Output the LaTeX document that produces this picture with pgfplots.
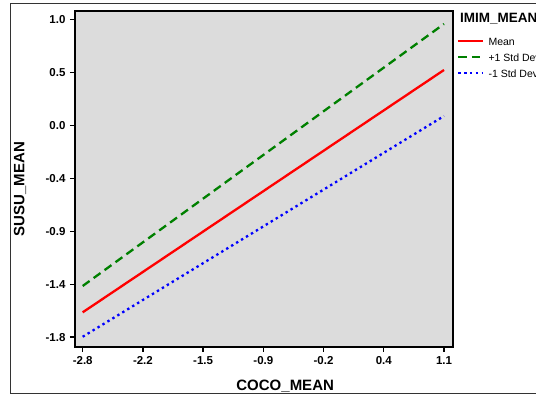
\documentclass[border=0pt]{standalone}
\usepackage{pgfplots}
\pgfplotsset{compat=1.18}
\usepackage{fontspec}
\setmainfont{Liberation Sans}
\definecolor{bggray}{RGB}{220,220,220}
\definecolor{dgreen}{RGB}{0,128,0}
\begin{document}
\begin{tikzpicture}[x=1pt,y=1pt]
\useasboundingbox (0,0) rectangle (536,396);
\fill[white] (0,0) rectangle (536,396);
\clip (0,0) rectangle (536,396);
\draw[line width=1pt, black!80] (10,2.5) rectangle (560,392);
\begin{axis}[
  at={(75pt,49pt)}, anchor=south west,
  scale only axis, width=378pt, height=336pt,
  xmin=-2.883, xmax=1.197, ymin=-1.928, ymax=1.057,
  axis background/.style={fill=bggray},
  axis line style={line width=1.3pt, black},
  every tick/.style={line width=1.3pt, black},
  tick align=outside, major tick length=5pt,
  xtick pos=bottom, ytick pos=left,
  xtick={-2.8,-2.15,-1.5,-0.85,-0.2,0.45,1.1},
  xticklabels={-2.8,-2.2,-1.5,-0.9,-0.2,0.4,1.1},
  ytick={0.98,0.51,0.04,-0.43,-0.90,-1.37,-1.84},
  yticklabels={1.0,0.5,0.0,-0.4,-0.9,-1.4,-1.8},
  tick label style={font=\fontsize{11.5}{13}\selectfont\bfseries},
  xticklabel style={yshift=-1pt},
  yticklabel style={xshift=-1pt},
  xlabel={COCO\_MEAN}, ylabel={SUSU\_MEAN},
  label style={font=\fontsize{15}{17}\selectfont\bfseries},
  xlabel style={at={(axis description cs:0.556,-0.116)}, anchor=center},
  ylabel style={at={(axis description cs:-0.1455,0.47)}, anchor=center},
  legend style={draw=none, fill=none, at={(axis description cs:1.0106,0.923)}, anchor=north west,
    font=\fontsize{10.5}{12}\selectfont, row sep=8pt, column sep=4pt, inner sep=0pt,
    nodes={inner sep=0pt, text height=8pt, text depth=0pt}},
  legend cell align=left,
  legend image code/.code={\draw[#1] (0pt,0pt) -- (25pt,0pt);},
]
\addplot[red, line width=2.3pt] coordinates {(-2.8,-1.620) (1.1,0.533)};
\addlegendentry{Mean}
\addplot[dgreen, line width=2.3pt, dash pattern=on 8.5pt off 5pt] coordinates {(-2.8,-1.386) (1.1,0.942)};
\addlegendentry{+1 Std Dev}
\addplot[blue, line width=2.3pt, dash pattern=on 2.4pt off 3.4pt] coordinates {(-2.8,-1.837) (1.1,0.124)};
\addlegendentry{-1 Std Dev}
\end{axis}
\node[anchor=west, font=\fontsize{13.5}{15}\selectfont\bfseries, inner sep=0pt] at (460,377) {IMIM\_MEAN};
\end{tikzpicture}
\end{document}
